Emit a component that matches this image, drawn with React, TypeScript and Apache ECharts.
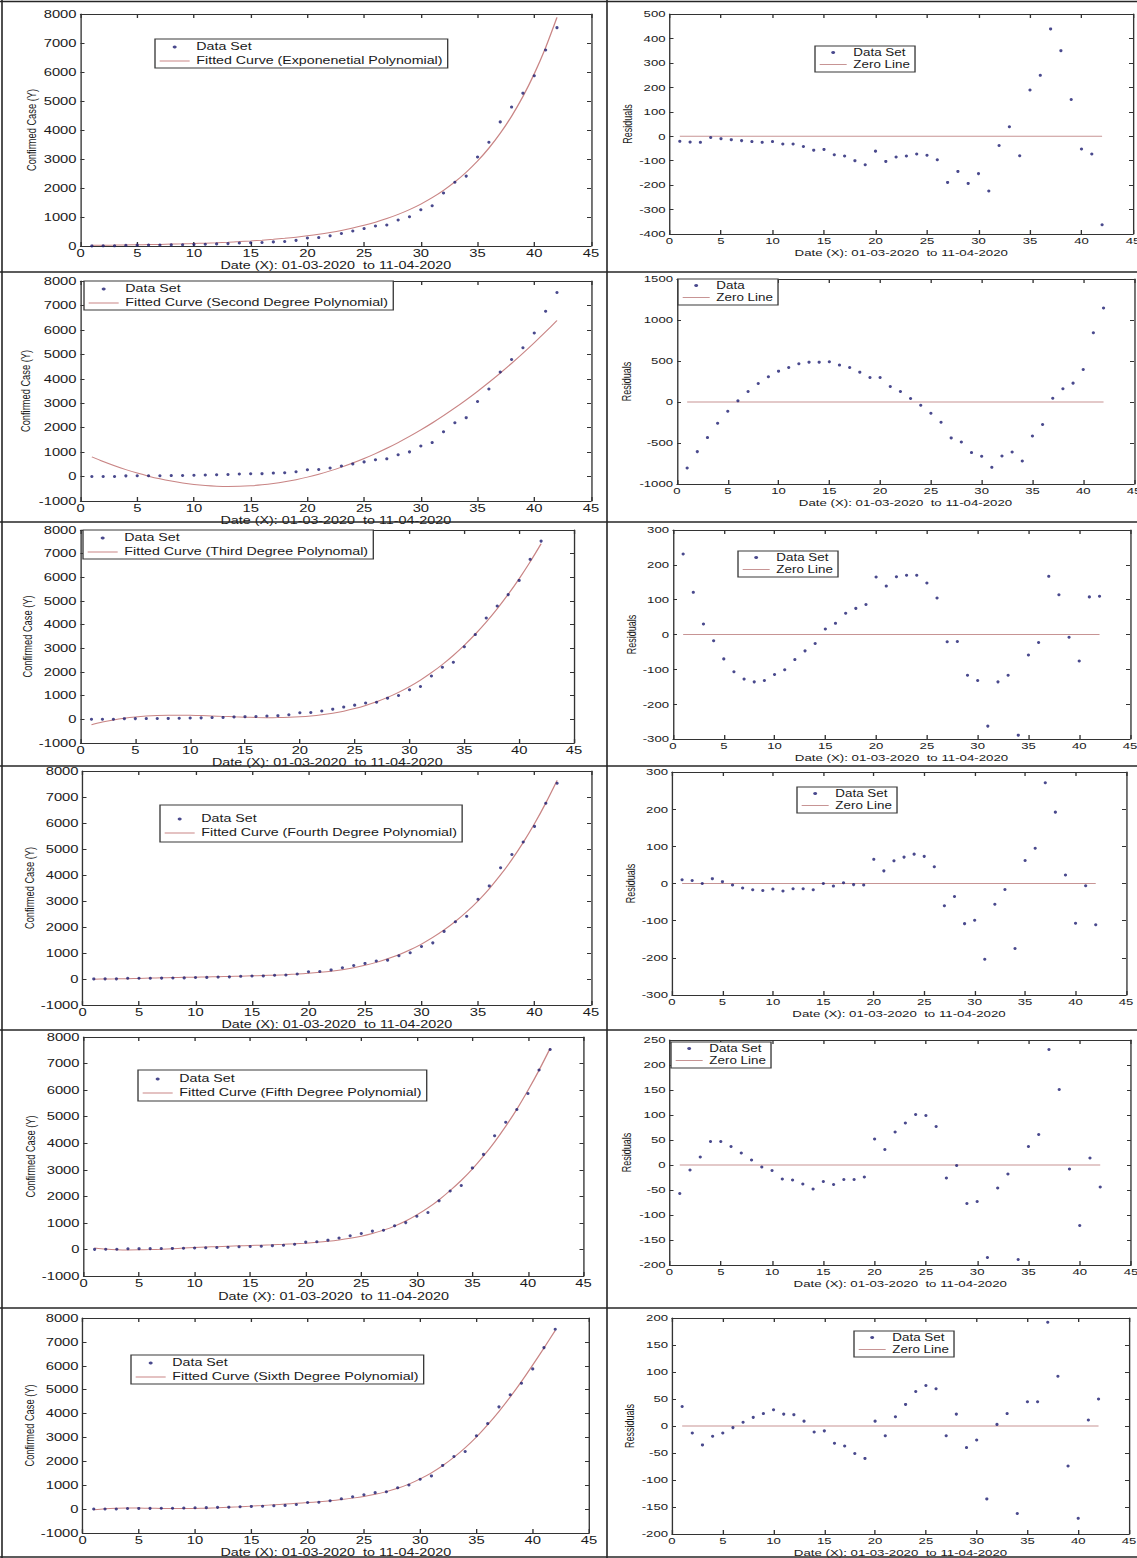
import React, { useEffect, useRef } from 'react';
import * as echarts from 'echarts';

// ---------------- data ----------------
const days = [1, 2, 3, 4, 5, 6, 7, 8, 9, 10, 11, 12, 13, 14, 15, 16, 17, 18, 19, 20, 21, 22, 23, 24, 25, 26, 27, 28, 29, 30, 31, 32, 33, 34, 35, 36, 37, 38, 39, 40, 41, 42];

const confirmedCases = [3, 5, 5, 28, 30, 31, 34, 39, 43, 56, 62, 73, 82, 102, 113, 119, 142, 156, 194, 276, 290, 350, 430, 517, 600, 690, 725, 895, 1010, 1250, 1390, 1830, 2200, 2410, 3070, 3580, 4280, 4790, 5270, 5870, 6760, 7530];

const fitExponential = [24, 28, 32, 37, 42, 49, 56, 65, 74, 86, 99, 114, 131, 151, 174, 200, 230, 265, 305, 352, 405, 467, 537, 619, 713, 821, 946, 1090, 1255, 1445, 1665, 1918, 2209, 2544, 2930, 3375, 3887, 4477, 5157, 5939, 6841, 7880];
const fitSecond = [807, 616, 442, 284, 142, 16, -93, -185, -262, -322, -366, -393, -404, -399, -377, -339, -285, -214, -127, -24, 96, 232, 384, 553, 738, 939, 1157, 1391, 1641, 1908, 2191, 2491, 2806, 3138, 3487, 3852, 4233, 4630, 5044, 5474, 5921, 6383];
const fitThird = [-228, -116, -25, 46, 99, 137, 161, 173, 176, 170, 158, 143, 125, 107, 91, 78, 72, 73, 83, 105, 140, 191, 259, 346, 454, 586, 742, 926, 1139, 1382, 1658, 1969, 2317, 2704, 3131, 3600, 4114, 4675, 5284, 5943, 6654, 7420];
const fitFourth = [-6, -1, 5, 14, 24, 34, 44, 54, 63, 72, 81, 90, 100, 110, 121, 134, 149, 168, 192, 221, 256, 298, 355, 430, 525, 640, 778, 935, 1125, 1345, 1598, 1886, 2213, 2585, 3003, 3475, 4005, 4595, 5250, 5975, 6770, 7640];
const fitFifth = [58, 15, -10, -19, -16, -5, 11, 30, 50, 70, 89, 106, 121, 135, 148, 161, 175, 192, 212, 237, 268, 306, 355, 418, 498, 600, 728, 880, 1070, 1300, 1565, 1870, 2218, 2600, 3030, 3515, 4050, 4640, 5280, 5990, 6750, 7575];
const fitSixth = [-30, 15, 38, 45, 42, 35, 28, 24, 25, 30, 40, 55, 76, 100, 125, 152, 182, 212, 243, 275, 310, 350, 400, 460, 530, 618, 732, 870, 1045, 1265, 1520, 1820, 2170, 2570, 3020, 3530, 4085, 4690, 5340, 6030, 6745, 7480];

const resExponential = [-21, -24, -25, -5, -10, -14, -18, -22, -25, -22, -32, -32, -42, -57, -54, -76, -81, -100, -117, -61, -103, -85, -81, -73, -78, -96, -189, -144, -193, -153, -224, -38, 39, -80, 189, 249, 439, 350, 150, -52, -73, -362];
const resSecond = [-804, -605, -434, -259, -112, 14, 128, 226, 307, 376, 421, 466, 486, 486, 490, 450, 421, 364, 299, 299, 189, 128, 42, -39, -137, -247, -438, -487, -617, -662, -797, -658, -609, -719, -414, -275, 46, 161, 230, 397, 845, 1146];
const resThird = [231, 121, 30, -18, -70, -107, -128, -136, -132, -115, -101, -72, -47, -26, 16, 32, 61, 75, 86, 165, 139, 166, 170, 170, 148, 105, -21, -20, -117, -132, -263, -136, -117, -289, -59, -23, 167, 114, -8, -76, 108, 110];
const resFourth = [10, 8, 0, 13, 5, -4, -12, -17, -19, -15, -20, -14, -14, -17, 0, -7, 2, -3, -4, 65, 34, 61, 71, 79, 73, 45, -60, -35, -108, -99, -204, -56, -16, -175, 62, 95, 271, 192, 23, -107, -6, -111];
const resFifth = [-57, -10, 16, 47, 47, 37, 24, 10, -4, -11, -28, -30, -38, -48, -33, -39, -29, -29, -24, 52, 31, 66, 84, 101, 99, 77, -26, -1, -77, -73, -185, -46, -18, -189, 37, 61, 231, 151, -8, -121, 14, -44];
const resSixth = [36, -13, -35, -19, -13, -3, 7, 16, 23, 30, 22, 21, 9, -11, -9, -32, -37, -51, -60, 9, -18, 17, 40, 64, 75, 69, -18, 22, -40, -26, -135, 3, 23, -162, 45, 45, 192, 92, -74, -171, 11, 50];

const fitNames = [
  'Fitted Curve (Exponenetial Polynomial)',
  'Fitted Curve (Second Degree Polynomial)',
  'Fitted Curve (Third Degree Polynomal)',
  'Fitted Curve (Fourth Degree Polynomial)',
  'Fitted Curve (Fifth Degree Polynomial)',
  'Fitted Curve (Sixth Degree Polynomial)',
];
const fittedCurves = [fitExponential, fitSecond, fitThird, fitFourth, fitFifth, fitSixth];
const residualSets = [resExponential, resSecond, resThird, resFourth, resFifth, resSixth];
const residualDotNames = ['Data Set', 'Data', 'Data Set', 'Data Set', 'Data Set', 'Data Set'];
const residualTitles = ['Residuals', 'Residuals', 'Residuals', 'Residuals', 'Residuals', 'Ressiduals'];
// [min, max, interval]
const caseRanges = [[0, 8000, 1000], [-1000, 8000, 1000], [-1000, 8000, 1000], [-1000, 8000, 1000], [-1000, 8000, 1000], [-1000, 8000, 1000]];
const residualRanges = [[-400, 500, 100], [-1000, 1500, 500], [-300, 300, 100], [-300, 300, 100], [-200, 250, 50], [-200, 200, 50]];
const xRange = [0, 45, 5];

const DOT_NAME = 'Data Set';
const ZERO_NAME = 'Zero Line';
const X_TITLE = 'Date (X): 01-03-2020  to 11-04-2020';
const CASE_TITLE = 'Confirmed Case (Y)';

// ---------------- layout (page pixels) ----------------
const PAGE_W = 1137;
const PAGE_H = 1558;
const CHART_W = 848;
const STRETCH = PAGE_W / CHART_W; // the figure is horizontally stretched
const sx = (v: number) => v / STRETCH;

const leftLayout = [
  { left: 80.5, top: 14, width: 510.5, height: 232, lgLeft: 155, lgTop: 39, lgPad: [2, 1], xGap: 12, yGap: 43.5 },
  { left: 80.5, top: 281, width: 510.5, height: 220, lgLeft: 84, lgTop: 281, lgPad: [2, 1], xGap: 10, yGap: 49.5 },
  { left: 80.5, top: 530, width: 493.5, height: 213, lgLeft: 83, lgTop: 530, lgPad: [2, 1], xGap: 10, yGap: 44.5 },
  { left: 82.5, top: 771, width: 508.5, height: 234, lgLeft: 160, lgTop: 805, lgPad: [8, 3], xGap: 10, yGap: 46.5 },
  { left: 83.5, top: 1037, width: 500, height: 239, lgLeft: 138, lgTop: 1070, lgPad: [3, 2], xGap: 15, yGap: 45.5 },
  { left: 82.5, top: 1318, width: 506.5, height: 215, lgLeft: 131, lgTop: 1355, lgPad: [2, 1], xGap: 7, yGap: 47.5 },
];
const rightLayout = [
  { left: 669.5, top: 14, width: 463.5, height: 220, lgLeft: 815, lgTop: 46, lgPad: [1, 2], xGap: 11, yGap: 36.5 },
  { left: 677, top: 279, width: 457, height: 205, lgLeft: 678, lgTop: 279, lgPad: [1, 2], xGap: 9, yGap: 45 },
  { left: 673, top: 530, width: 457, height: 209, lgLeft: 738, lgTop: 551, lgPad: [1, 2], xGap: 10, yGap: 36 },
  { left: 672, top: 772, width: 454, height: 223, lgLeft: 797, lgTop: 787, lgPad: [1, 2], xGap: 12, yGap: 36 },
  { left: 669.5, top: 1040, width: 461.5, height: 225, lgLeft: 671, lgTop: 1042, lgPad: [1, 2], xGap: 10, yGap: 37.5 },
  { left: 672, top: 1318, width: 457, height: 216, lgLeft: 854, lgTop: 1331, lgPad: [1, 2], xGap: 7, yGap: 37 },
];
const rowLines = [1.5, 272, 522, 766, 1030, 1308, 1557];
const colLines = [2, 607];

const leftFonts = { tick: 11, xTitle: 10.7, yTitle: 9.3, legend: 10.6, legendLine: 12, icon: 30, itemGap: 2 };
const rightFonts = { tick: 9.8, xTitle: 9.9, yTitle: 9, legend: 10, legendLine: 11, icon: 27, itemGap: 1 };

const FONT = "'Liberation Sans', Arial, Helvetica, sans-serif";
const AXIS_COLOR = '#333333';
const TEXT_COLOR = '#1a1a1a';
const DOT_COLOR = '#1c1c70';
const FIT_COLOR = '#c98585';
const ZERO_COLOR = '#c79494';
const BORDER_COLOR = '#262626';

const plainNumber = (v: number) => String(v);

function buildOption() {
  const grid: any[] = [];
  const xAxis: any[] = [];
  const yAxis: any[] = [];
  const series: any[] = [];
  const legend: any[] = [];

  const addPanel = (
    L: any,
    f: any,
    yRange: number[],
    yTitle: string,
    dots: number[],
    dotName: string,
    lineName: string,
    lineData: number[][],
    lineColor: string,
    smooth: number | boolean,
  ) => {
    const g = grid.length;
    grid.push({
      left: sx(L.left),
      top: L.top,
      width: sx(L.width),
      height: L.height,
      show: false,
      containLabel: false,
      outerBoundsMode: 'none',
    });
    const axisLine = { show: true, onZero: false, lineStyle: { color: AXIS_COLOR, width: 1 } };
    const tickX = { show: true, inside: true, length: 4, lineStyle: { color: AXIS_COLOR, width: 1 } };
    const tickY = { show: true, inside: true, length: sx(4), lineStyle: { color: AXIS_COLOR, width: 1 } };
    const textBase = { fontFamily: FONT, color: TEXT_COLOR };
    xAxis.push({
      type: 'value', gridIndex: g, position: 'bottom',
      min: xRange[0], max: xRange[1], interval: xRange[2],
      axisLine, axisTick: tickX, splitLine: { show: false },
      axisLabel: { ...textBase, fontSize: f.tick, margin: 2, hideOverlap: false, formatter: plainNumber },
      name: X_TITLE, nameLocation: 'middle', nameGap: L.xGap,
      nameTextStyle: { ...textBase, fontSize: f.xTitle },
    });
    xAxis.push({
      type: 'value', gridIndex: g, position: 'top',
      min: xRange[0], max: xRange[1], interval: xRange[2],
      axisLine, axisTick: tickX, splitLine: { show: false }, axisLabel: { show: false },
    });
    yAxis.push({
      type: 'value', gridIndex: g, position: 'left',
      min: yRange[0], max: yRange[1], interval: yRange[2],
      axisLine, axisTick: tickY, splitLine: { show: false },
      axisLabel: { ...textBase, fontSize: f.tick, margin: sx(4), hideOverlap: false, formatter: plainNumber },
      name: yTitle, nameLocation: 'middle', nameRotate: 90, nameGap: sx(L.yGap),
      nameTextStyle: { ...textBase, fontSize: f.yTitle },
    });
    yAxis.push({
      type: 'value', gridIndex: g, position: 'right',
      min: yRange[0], max: yRange[1], interval: yRange[2],
      axisLine, axisTick: tickY, splitLine: { show: false }, axisLabel: { show: false },
    });
    series.push({
      type: 'line', name: lineName, xAxisIndex: 2 * g, yAxisIndex: 2 * g,
      data: lineData, symbol: 'none', showSymbol: false, smooth,
      lineStyle: { color: lineColor, width: 1 }, itemStyle: { color: lineColor },
      silent: true, z: 2,
    });
    series.push({
      type: 'scatter', name: dotName, xAxisIndex: 2 * g, yAxisIndex: 2 * g,
      data: days.map((d, i) => [d, dots[i]]),
      symbol: 'circle', symbolSize: [sx(3.2), 3],
      itemStyle: { color: DOT_COLOR }, silent: true, z: 3,
    });
    legend.push({
      orient: 'vertical',
      left: sx(L.lgLeft), top: L.lgTop,
      data: [
        { name: dotName, icon: 'circle' },
        { name: lineName, lineStyle: { width: 1, color: lineColor }, itemStyle: { opacity: 0 } },
      ],
      itemWidth: sx(f.icon), itemHeight: 3, itemGap: f.itemGap,
      padding: [L.lgPad[0], sx(5), L.lgPad[1], sx(4)],
      borderColor: '#3a3a3a', borderWidth: 1, backgroundColor: '#ffffff',
      textStyle: { fontFamily: FONT, color: TEXT_COLOR, fontSize: f.legend, lineHeight: f.legendLine },
      selectedMode: false, z: 10,
    });
  };

  for (let r = 0; r < 6; r++) {
    const fit = fittedCurves[r];
    addPanel(
      leftLayout[r], leftFonts, caseRanges[r], CASE_TITLE,
      confirmedCases, DOT_NAME, fitNames[r],
      days.map((d, i) => [d, fit[i]]), FIT_COLOR, 0.3,
    );
    addPanel(
      rightLayout[r], rightFonts, residualRanges[r], residualTitles[r],
      residualSets[r], residualDotNames[r], ZERO_NAME,
      [[days[0], 0], [days[days.length - 1], 0]], ZERO_COLOR, false,
    );
  }

  const graphic: any[] = [];
  rowLines.forEach((y) => {
    graphic.push({
      type: 'line', silent: true, z: 100,
      shape: { x1: 0, y1: y, x2: CHART_W, y2: y },
      style: { stroke: BORDER_COLOR, lineWidth: 1.6 },
    });
  });
  colLines.forEach((x) => {
    graphic.push({
      type: 'line', silent: true, z: 100,
      shape: { x1: sx(x), y1: 0, x2: sx(x), y2: PAGE_H },
      style: { stroke: BORDER_COLOR, lineWidth: 1.2 },
    });
  });

  return {
    animation: false,
    backgroundColor: '#ffffff',
    textStyle: { fontFamily: FONT },
    grid, xAxis, yAxis, series, legend, graphic,
  };
}

export default function App() {
  const ref = useRef<HTMLDivElement>(null);
  useEffect(() => {
    document.body.style.margin = '0';
    document.body.style.overflow = 'hidden';
    document.documentElement.style.overflow = 'hidden';
    if (!ref.current) return;
    const chart = echarts.init(ref.current, undefined, { renderer: 'svg' });
    chart.setOption(buildOption() as any);
    return () => chart.dispose();
  }, []);
  return (
    <div style={{ position: 'relative', width: PAGE_W, height: PAGE_H, overflow: 'hidden', background: '#fff' }}>
      <div
        ref={ref}
        style={{
          width: CHART_W,
          height: PAGE_H,
          transform: `scaleX(${STRETCH})`,
          transformOrigin: '0 0',
        }}
      />
    </div>
  );
}
